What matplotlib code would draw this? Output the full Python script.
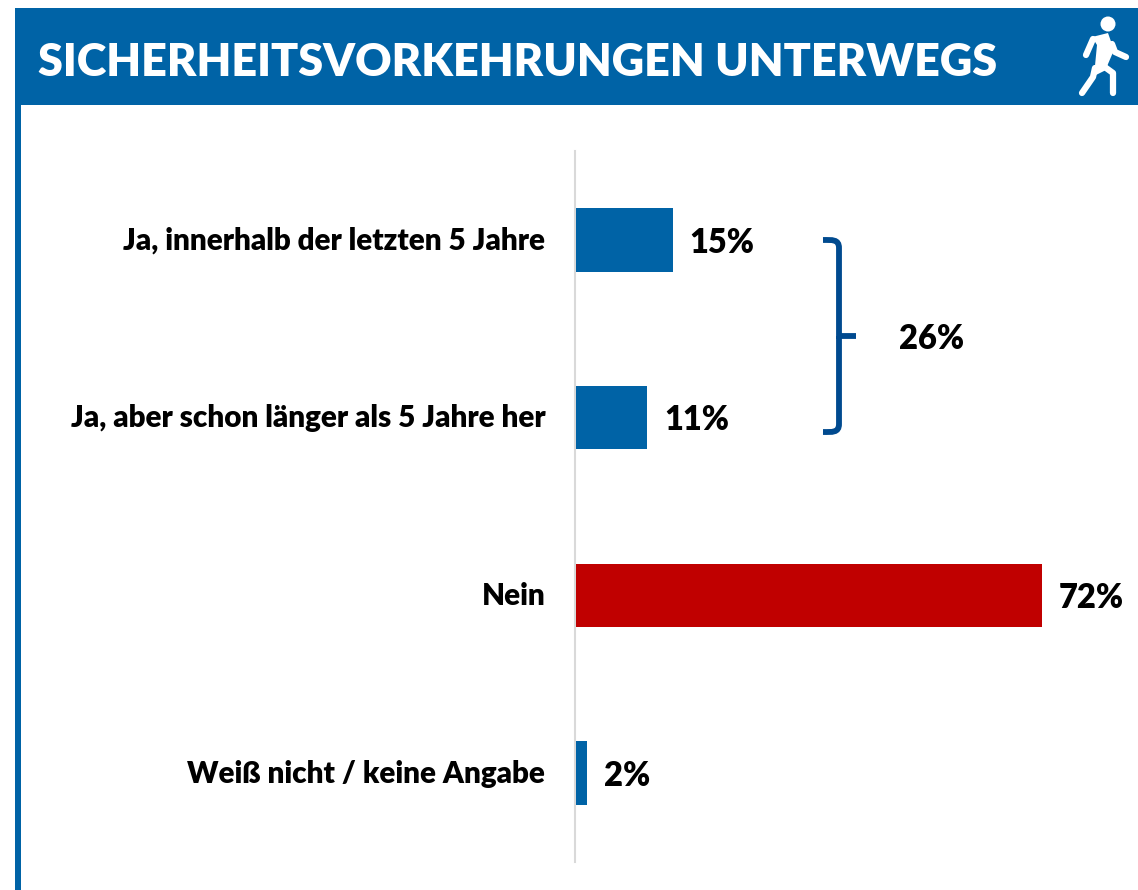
# -*- coding: utf-8 -*-
import matplotlib
matplotlib.use("Agg")
import matplotlib.pyplot as plt
from matplotlib.patches import Rectangle, Circle, PathPatch, Polygon
from matplotlib.path import Path
from matplotlib.transforms import ScaledTranslation

kategorien = ["Ja, innerhalb der letzten 5 Jahre", "Ja, aber schon länger als 5 Jahre her",
              "Nein", "Weiß nicht / keine Angabe"]
werte = [15, 11, 72, 1.7]
wert_labels = ["15%", "11%", "72%", "2%"]
farben = ["#0063A6", "#0063A6", "#C00000", "#0063A6"]
titel = "SICHERHEITSVORKEHRUNGEN UNTERWEGS"
summe_label = "26%"

plt.rcParams['font.family'] = ['Lato', 'DejaVu Sans']
B, H = 1138, 890
blau = "#0063A6"
dunkelblau = "#004A8F"
gewicht = "heavy"

fig = plt.figure(figsize=(B / 100, H / 100), dpi=100, facecolor="white")

# Overlay in Pixelkoordinaten fuer Kopfzeile, Klammer und Icon
deko = fig.add_axes([0, 0, 1, 1], zorder=1)
deko.set_xlim(0, B)
deko.set_ylim(H, 0)
deko.axis('off')

deko.add_patch(Rectangle((15, 8), B - 15, 97, color=blau, lw=0))
deko.add_patch(Rectangle((15, 105), 6, H - 105, color=blau, lw=0))
deko.text(38, 62, titel, color="white", fontsize=32.4, fontweight=gewicht, va="center", ha="left")

# Fussgaenger-Icon
weiss = dict(color="white", lw=4.5, solid_capstyle="round", solid_joinstyle="round")
deko.add_patch(Circle((1108, 24), 7.5, color="white", lw=0))
deko.add_patch(Polygon([(1092, 37), (1108, 33), (1114, 50), (1108, 64), (1106, 70), (1094, 76), (1097, 45)],
                       closed=True, color="white", lw=0))
deko.plot([1093, 1086], [39, 55], **weiss)
deko.plot([1112, 1115, 1126], [44, 52, 57], **weiss)
deko.plot([1095, 1093, 1082], [68, 77, 93], **weiss)
deko.plot([1102, 1113, 1113], [65, 73, 93], **weiss)

# Klammer
klammer = Path([(823, 240), (832, 240), (839, 239), (839, 248), (839, 336), (856, 336),
                (839, 336), (839, 424), (839, 433), (832, 432), (823, 432)],
               [Path.MOVETO, Path.CURVE4, Path.CURVE4, Path.CURVE4, Path.LINETO, Path.LINETO,
                Path.MOVETO, Path.LINETO, Path.CURVE4, Path.CURVE4, Path.CURVE4])
deko.add_patch(PathPatch(klammer, fc="none", ec=dunkelblau, lw=4.2, capstyle="butt"))
deko.text(899, 339, summe_label, fontsize=23.5, fontweight=gewicht, va="center", ha="left", color="black")

# Balken
ax = fig.add_axes([576 / B, 1 - 862 / H, (B - 576) / B, 711 / H], zorder=2)
ax.patch.set_alpha(0)
for s in ["top", "right", "bottom"]:
    ax.spines[s].set_visible(False)
ax.spines["left"].set_color("#D9D9D9")
ax.spines["left"].set_linewidth(1.5)
ax.spines["left"].set_position(("outward", 0.7))

px_pro_prozent = 466 / 72
ax.set_xlim(0, (B - 576) / px_pro_prozent)
ax.set_ylim(3.5, -0.5)
pos = list(range(len(werte)))
ax.barh(pos, werte, height=0.357, color=farben, zorder=3)
for p, w, l in zip(pos, werte, wert_labels):
    ax.annotate(l, (w, p), xytext=(12, -2), textcoords="offset points", fontsize=23.5, fontweight=gewicht,
                va="center", ha="left", color="black")
ax.set_yticks(pos)
ax.set_yticklabels(kategorien, fontsize=21.3, fontweight=gewicht, color="black")
ax.tick_params(axis="y", length=0, pad=21.5)
ax.set_xticks([])
# Achsenbeschriftung sitzt im Original etwas hoeher
versatz = ScaledTranslation(0, 1.5 / 72, fig.dpi_scale_trans)
for label in ax.get_yticklabels():
    label.set_transform(label.get_transform() + versatz)

fig.savefig("out.png", dpi=100)
